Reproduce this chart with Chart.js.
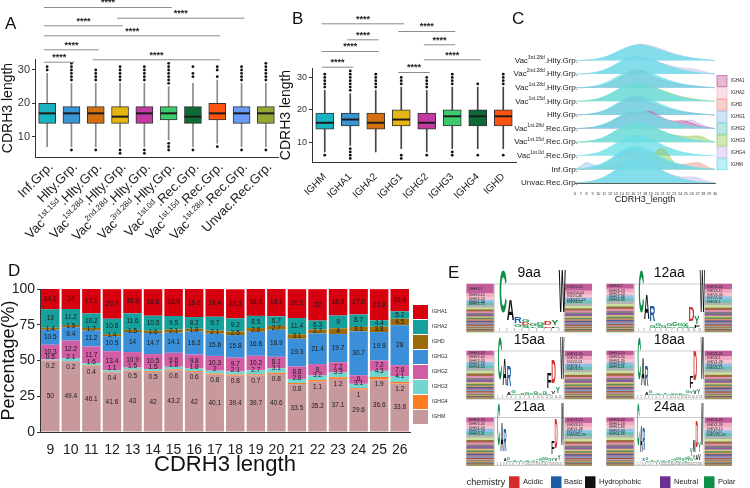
<!DOCTYPE html>
<html>
<head>
<meta charset="utf-8">
<script src="https://cdn.jsdelivr.net/npm/chart.js@4.4.1/dist/chart.umd.min.js"></script>
<style>
  body { margin: 0; background: #fff; }
  #fig { position: relative; width: 750px; height: 488px; overflow: hidden; background: #fff; }
  #fig canvas { position: absolute; }
  .tag { position: absolute; font: 17px "Liberation Sans", Arial, sans-serif; color: #111; line-height: 1; }
</style>
</head>
<body>
<div id="fig">
  <canvas id="chartA" width="285" height="250" style="left:0px;top:0px"></canvas>
  <canvas id="chartB" width="242" height="250" style="left:278px;top:0px"></canvas>
  <canvas id="chartC" width="245" height="240" style="left:505px;top:0px"></canvas>
  <canvas id="chartD" width="460" height="238" style="left:0px;top:250px"></canvas>
  <canvas id="chartE" width="290" height="248" style="left:460px;top:240px"></canvas>
  <div class="tag" style="left:5px;top:15px">A</div>
  <div class="tag" style="left:292px;top:10px">B</div>
  <div class="tag" style="left:512px;top:10px">C</div>
  <div class="tag" style="left:8px;top:262px">D</div>
  <div class="tag" style="left:448px;top:264px">E</div>
</div>
<script>
const FONT = '"Liberation Sans", Arial, Helvetica, sans-serif';

// ---- A: CDRH3 length per cohort (whisker low, Q1, median, Q3, whisker high)
const groupsA = ['Inf.Grp.', 'Hlty.Grp.', 'Vac1st.15d.Hlty.Grp.', 'Vac1st.28d.Hlty.Grp.', 'Vac2nd.28d.Hlty.Grp.',
  'Vac3rd.28d.Hlty.Grp.', 'Vac1st.0d.Rec.Grp.', 'Vac1st.15d.Rec.Grp.', 'Vac1st.28d.Rec.Grp.', 'Unvac.Rec.Grp.'];
const statsA = [[7,14,17,20,29], [7,14,17,19,26], [7,14,17,19,26], [7,14,16,19,26], [7,14,17,19,26],
  [9,15,17,19,25], [7,14,16,19,26], [8,15,17,20,27], [7,14,17,19,26], [7,14,17,19,26]];
const outliersA = [[30,31], [6,27,28,29,30,31,32], [6,27,28,29,30], [5,6,27,28,29,30,31], [5,6,27,28,29,30,31],
  [6,7,8,26,27,28,29,30,31,32], [6,28,29,31], [7,28,30,31], [6,27,28,29,30,31], [6,27,28,29,30,31,32]];
const colorsA = ['#19b2c0', '#3a95d3', '#d36f0f', '#e7b512', '#c13aa0', '#3ecb6f', '#0c6a36', '#ff5310', '#6a9cf5', '#93a832'];
const sigPairsA = [[0,5], [3,8], [0,3], [0,7], [0,2], [2,7], [0,1]];

// ---- B: CDRH3 length per isotype
const isotypesB = ['IGHM', 'IGHA1', 'IGHA2', 'IGHG1', 'IGHG2', 'IGHG3', 'IGHG4', 'IGHD'];
const statsB = [[7,14,16,19,26], [9,15,17,19,25], [7,14,16,19,26], [8,15,17,20,27],
  [7,14,16,19,26], [8,15,18,20,27], [8,15,18,20,27], [8,15,18,20,27]];
const outliersB = [[6,27,28,29,30,31], [5,6,7,8,26,27,28,29,30,31,32], [27,28,29,30,31], [5,6,28,29,30],
  [6,27,28,29,30], [6,7,28,29,30,31], [6,28], [6,28,29,30,31]];
const colorsB = ['#19b2c0', '#3a95d3', '#d36f0f', '#e7b512', '#c13aa0', '#3ecb6f', '#0c6a36', '#ff5310'];
const sigPairsB = [[0,3], [3,5], [1,2], [4,5], [0,2], [4,6], [0,1], [3,4]];

// ---- C: ridgeline densities (rows of height 1), x = CDRH3 length 6..30
const ridgeX = [6,7,8,9,10,11,12,13,14,15,16,17,18,19,20,21,22,23,24,25,26,27,28,29,30];
const ridgeGroups = ['Unvac.Rec.Grp.', 'Inf.Grp.', 'Vac1st.0d.Rec.Grp.', 'Vac1st.15d.Rec.Grp.', 'Vac1st.28d.Rec.Grp.',
  'Hlty.Grp.', 'Vac1st.15d.Hlty.Grp.', 'Vac1st.28d.Hlty.Grp.', 'Vac2nd.28d.Hlty.Grp.', 'Vac3rd.28d.Hlty.Grp.'];
const ridgeIGHM = [
  [0,0.03,0.08,0.15,0.28,0.45,0.7,1.0,1.3,1.55,1.75,1.8,1.65,1.4,1.15,0.9,0.68,0.5,0.36,0.25,0.16,0.1,0.06,0.03,0],
  [0,0.05,0.12,0.2,0.32,0.5,0.75,1.05,1.35,1.6,1.7,1.65,1.5,1.3,1.05,0.85,0.65,0.5,0.38,0.28,0.2,0.14,0.08,0.04,0],
  [0,0.02,0.07,0.14,0.25,0.42,0.65,0.9,1.15,1.35,1.48,1.5,1.38,1.2,1.0,0.8,0.6,0.45,0.32,0.22,0.14,0.09,0.05,0.02,0],
  [0,0.02,0.06,0.12,0.22,0.38,0.6,0.85,1.1,1.3,1.42,1.45,1.35,1.18,1.0,0.82,0.64,0.5,0.38,0.28,0.2,0.13,0.08,0.04,0],
  [0,0.02,0.05,0.1,0.2,0.34,0.52,0.75,0.98,1.15,1.27,1.3,1.22,1.08,0.92,0.75,0.6,0.46,0.35,0.26,0.18,0.12,0.07,0.03,0],
  [0,0.02,0.05,0.1,0.2,0.35,0.55,0.8,1.02,1.2,1.32,1.35,1.25,1.1,0.92,0.74,0.57,0.43,0.31,0.22,0.15,0.1,0.06,0.03,0],
  [0,0.02,0.05,0.11,0.21,0.36,0.56,0.8,1.03,1.22,1.33,1.35,1.26,1.1,0.92,0.74,0.58,0.44,0.32,0.23,0.16,0.1,0.06,0.03,0],
  [0,0.02,0.05,0.1,0.19,0.33,0.52,0.76,0.98,1.16,1.27,1.3,1.22,1.07,0.9,0.73,0.57,0.43,0.32,0.23,0.16,0.11,0.07,0.03,0],
  [0,0.01,0.04,0.09,0.18,0.31,0.5,0.73,0.96,1.15,1.27,1.3,1.23,1.09,0.93,0.76,0.6,0.46,0.35,0.26,0.18,0.12,0.07,0.03,0],
  [0,0.01,0.03,0.07,0.14,0.25,0.4,0.6,0.8,0.98,1.1,1.15,1.1,1.0,0.87,0.72,0.58,0.45,0.35,0.26,0.18,0.12,0.07,0.03,0]
];
const ridgeOthers = [
  { group: 0, iso: 'IGHG4', d: [0,0.02,0.06,0.12,0.24,0.4,0.62,0.9,1.18,1.42,1.6,1.66,1.55,1.35,1.12,0.9,0.7,0.55,0.45,0.42,0.45,0.38,0.22,0.08,0] },
  { group: 1, iso: 'IGHG1', d: [0,0.25,0.5,0.35,0.3,0.45,0.7,0.95,1.2,1.4,1.5,1.45,1.3,1.1,0.9,0.7,0.52,0.38,0.27,0.18,0.12,0.08,0.05,0.02,0] },
  { group: 1, iso: 'IGHD', d: [0,0.02,0.06,0.12,0.22,0.38,0.6,0.85,1.1,1.3,1.4,1.38,1.25,1.05,0.85,0.65,0.5,0.4,0.35,0.38,0.45,0.5,0.35,0.12,0] },
  { group: 1, iso: 'IGHG3', d: [0,0,0.01,0.03,0.06,0.12,0.22,0.35,0.5,0.62,0.7,0.75,0.78,0.85,1.35,1.55,1.1,0.5,0.25,0.12,0.06,0.03,0.01,0,0] },
  { group: 3, iso: 'IGHG3', d: [0,0.01,0.04,0.1,0.2,0.34,0.55,0.78,1.0,1.2,1.32,1.35,1.25,1.1,0.92,0.76,0.62,0.52,0.46,0.42,0.44,0.46,0.36,0.15,0] },
  { group: 4, iso: 'IGHA1', d: [0,0,0.03,0.08,0.15,0.28,0.46,0.7,0.92,1.1,1.2,1.22,1.2,1.25,1.05,0.8,0.62,0.55,0.58,0.55,0.4,0.25,0.14,0.06,0] },
  { group: 4, iso: 'IGHG4', d: [0,0.01,0.03,0.07,0.14,0.26,0.42,0.64,0.86,1.04,1.16,1.2,1.14,1.0,0.86,0.7,0.56,0.46,0.44,0.56,0.62,0.45,0.25,0.08,0] },
  { group: 5, iso: 'IGHA1', d: [0,0.01,0.03,0.08,0.16,0.28,0.46,0.7,0.95,1.18,1.3,1.28,1.12,0.92,0.74,0.58,0.45,0.35,0.27,0.2,0.14,0.09,0.05,0.02,0] },
  { group: 6, iso: 'IGHG3', d: [0,0.01,0.04,0.09,0.18,0.32,0.5,0.74,0.96,1.14,1.26,1.3,1.24,1.12,0.96,0.8,0.64,0.5,0.38,0.28,0.2,0.13,0.08,0.03,0] },
  { group: 7, iso: 'IGHA1', d: [0,0,0.02,0.05,0.1,0.2,0.35,0.55,0.8,1.05,1.25,1.28,1.1,0.9,0.7,0.55,0.42,0.32,0.24,0.18,0.12,0.08,0.05,0.02,0] },
  { group: 8, iso: 'IGHG4', d: [0,0.01,0.04,0.08,0.16,0.28,0.46,0.68,0.9,1.08,1.2,1.25,1.2,1.08,0.94,0.8,0.66,0.55,0.47,0.42,0.4,0.32,0.2,0.08,0] },
  { group: 9, iso: 'IGHG4', d: [0,0,0.02,0.05,0.1,0.2,0.35,0.55,0.75,0.95,1.1,1.2,1.18,1.08,0.95,0.8,0.65,0.5,0.38,0.28,0.2,0.13,0.08,0.04,0] }
];
const isotypesC = ['IGHA1', 'IGHA2', 'IGHD', 'IGHG1', 'IGHG2', 'IGHG3', 'IGHG4', 'IGHM'];

// ---- D: isotype share (%) per CDRH3 length
const lengthsD = ['9','10','11','12','13','14','15','16','17','18','19','20','21','22','23','24','25','26'];
const pctIGHM  = [50,49.4,46.1,41.6,43,42,43.2,42,40.1,39.4,39.7,40.6,33.5,35.2,37.1,29.6,36.6,33.8];
const pctIGHG4 = [0.2,0.2,0.4,0.4,0.5,0.5,0.6,0.6,0.8,0.8,0.7,0.8,0.8,1.1,1.2,1,1.9,1.2];
const pctIGHG3 = [0.5,2.1,1.6,1.1,1.5,1.5,1.8,1.8,2,2.1,2.7,3.1,2.8,3.2,3.3,3.1,4.3,4.1];
const pctIGHG2 = [10.3,12.2,11.7,13.4,10.9,10.5,9.8,9.8,10.3,9.7,10.2,8.1,8.8,8,7.2,6,7.2,7.6];
const pctIGHG1 = [10.5,9.4,11.2,10.5,14,14.7,14.1,16.2,15.6,15.8,16.8,18.9,19.3,21.4,19.7,30.7,19.9,28];
const pctIGHD  = [1.4,1.5,1.7,1.4,1.5,1.6,2.1,1.8,2.1,2.5,2.6,2.7,3.1,2.7,4,3.1,3.8,4.5];
const pctIGHA2 = [13,11.2,10.2,10.8,11.6,10.5,9.5,8.2,9.7,9.2,8.5,6.7,11.4,6.3,9,8.7,4.4,5.2];
const pctIGHA1 = [14.1,14,17.1,20.7,16.9,18.6,18.9,19.6,19.4,20.3,18.8,19.1,20.2,22,18.5,17.8,21.8,15.8];

// ---- E: logos (letter+bits per position, bottom to top) and V-gene usage
const logoTitles = ['9aa', '12aa', '15aa', '18aa', '21aa', '24aa'];
const logoCols = [
  ['C4.2','A2.1','G.3 R.6','S.2 D.3 G.25','T.15 G.3','S.2 G.25','E.15 D.4','F.15 Y.45','W4.2'],
  ['C4.2','A2.4','G.2 R1.5','S.15 G.3','G.2','S.12 G.2','Y.15 G.35','S.15 G.25','G.2 Y.2','S.15 D1.4','F.2 Y.7','W4.2'],
  ['C4.2','A2.6','A.2 R2','S.15 G.25','G.15','S.1 G.15','G.2','Y.1 G.15','S.1 G.2','G.15 Y.1','S.1 G.2','G.15 F1.5','V.3 D2.3','Y.6','W4.2'],
  ['C4.2','A2.7','A.2 R2','S.15 G.2','G.12','S.1 G.15','G.15','Y.1 G.12','G.18','S.1 G.15','G.12 Y.1','S.1 G.18','G.15','Y.12 G.2','Y.3 F1.2','V.4 D2.9','Y.5','W4.2'],
  ['C4.2','A2.8','A.2 R2.2','S.15 G.2','G.12','S.1 G.12','G.15','Y.1 G.12','G.15','S.1 G.12','G.15','Y.1 G.15','S.1 G.18','G.2','S.12 G.22','Y.15 G.2','G.25','Y.3 F1.3','V.3 D2.9','Y.5','W4.2'],
  ['C4.2','A2.6','K.3 R2.2','S.15 G.2','G.12','S.1 G.12','G.15','Y.1 G.12','G.15','S.1 G.12','G.15','Y.1 G.15','S.1 G.18','G.2','S.12 G.22','Y.15 G.2','G.25','S.15 G.25','Y.2 G.3','G.3 Y.7','Y.5 M1.2','A.5 D2.6','V.6 Y1','W4.2']
];
const heavyUsage = [
  [0.19,0.07,0.07,0.05,0.05,0.05,0.04,0.04,0.035,0.035,0.03,0.03,0.03,0.03,0.025,0.025,0.025,0.025,0.02,0.02,0.02,0.02,0.02,0.02],
  [0.1,0.07,0.07,0.06,0.06,0.06,0.05,0.05,0.045,0.04,0.04,0.035,0.035,0.03,0.03,0.03,0.03,0.025,0.025,0.025,0.02,0.02,0.02,0.02],
  [0.09,0.07,0.07,0.065,0.06,0.055,0.05,0.05,0.045,0.04,0.04,0.035,0.035,0.03,0.03,0.03,0.025,0.025,0.025,0.02,0.02,0.02,0.02,0.02],
  [0.09,0.075,0.07,0.06,0.06,0.05,0.05,0.05,0.045,0.04,0.04,0.035,0.035,0.03,0.03,0.03,0.025,0.025,0.025,0.02,0.02,0.02,0.02,0.02],
  [0.09,0.075,0.065,0.065,0.06,0.05,0.05,0.05,0.045,0.04,0.04,0.035,0.035,0.03,0.03,0.03,0.025,0.025,0.025,0.02,0.02,0.02,0.02,0.02],
  [0.085,0.075,0.07,0.065,0.06,0.05,0.05,0.05,0.045,0.04,0.04,0.035,0.035,0.03,0.03,0.03,0.025,0.025,0.025,0.02,0.02,0.02,0.02,0.02]
];
const lightUsage = [
  [0.14,0.08,0.07,0.06,0.06,0.05,0.05,0.045,0.04,0.04,0.035,0.035,0.03,0.03,0.03,0.025,0.025,0.025,0.02,0.02,0.02,0.02,0.02,0.02],
  [0.11,0.075,0.07,0.065,0.06,0.05,0.05,0.045,0.04,0.04,0.035,0.035,0.03,0.03,0.03,0.025,0.025,0.025,0.02,0.02,0.02,0.02,0.02,0.02],
  [0.11,0.08,0.07,0.065,0.06,0.05,0.05,0.045,0.04,0.04,0.035,0.035,0.03,0.03,0.03,0.025,0.025,0.025,0.02,0.02,0.02,0.02,0.02,0.02],
  [0.11,0.08,0.07,0.06,0.06,0.055,0.05,0.045,0.04,0.04,0.035,0.035,0.03,0.03,0.03,0.025,0.025,0.025,0.02,0.02,0.02,0.02,0.02,0.02],
  [0.11,0.075,0.07,0.065,0.06,0.055,0.05,0.045,0.04,0.04,0.035,0.035,0.03,0.03,0.03,0.025,0.025,0.025,0.02,0.02,0.02,0.02,0.02,0.02],
  [0.11,0.08,0.07,0.065,0.06,0.05,0.05,0.045,0.04,0.04,0.035,0.035,0.03,0.03,0.03,0.025,0.025,0.025,0.02,0.02,0.02,0.02,0.02,0.02]
];
const heavyGenes = [
  ['IGHV3-7','IGHV3-15','IGHV3-23','IGHV1-46','IGHV3-73'],
  ['IGHV3-7','IGHV3-74','IGHV3-23','IGHV1-46','IGHV4-39'],
  ['IGHV3-23','IGHV3-30','IGHV3-33','IGHV1-18','IGHV4-34'],
  ['IGHV3-23','IGHV3-30','IGHV4-39','IGHV3-33','IGHV3-21'],
  ['IGHV3-23','IGHV3-30','IGHV4-59','IGHV3-33','IGHV3-21'],
  ['IGHV3-30','IGHV1-18','IGHV1-69','IGHV3-33','IGHV4-39']
];
const lightGenes = [
  ['IGKV3-20','IGLV10-54','IGLV1-46','IGKV1D-33','IGLV3-14'],
  ['IGKV3-20','IGKV3-11','IGKV3-30','IGLV2-14','IGKV4-1'],
  ['IGKV3-20','IGKV1-39','IGLV2-14','IGKV4-1','IGKV3-15'],
  ['IGKV3-20','IGKV4-1','IGKV1-39','IGLV2-14','IGKV3-15'],
  ['IGKV3-20','IGKV3-15','IGKV1-39','IGLV1-47','IGKV2D-29'],
  ['IGKV3-20','IGKV1-39','IGKV3-15','IGLV1-51','IGKV2D-29']
];
const chemistry = ['Acidic', 'Basic', 'Hydrophobic', 'Neutral', 'Polar'];

Chart.defaults.font.family = FONT;
Chart.defaults.color = '#222';
Chart.defaults.animation = false;
Chart.defaults.plugins.legend.display = false;
Chart.defaults.plugins.tooltip.enabled = false;

function supParts(s) {
  const m = s.match(/^Vac(\d\w+\.\d+d)(\..*)$/);
  return m ? ['Vac', m[1], m[2]] : [s, '', ''];
}
function drawSupText(ctx, parts, x, y, size, supSize, angle) {
  const [a, b, c] = parts;
  ctx.save();
  ctx.translate(x, y);
  ctx.rotate(angle);
  ctx.textAlign = 'right';
  ctx.textBaseline = 'middle';
  ctx.font = size + 'px ' + FONT;
  let off = 0;
  if (c) { ctx.fillText(c, 0, 0); off = ctx.measureText(c).width; }
  if (b) {
    ctx.font = supSize + 'px ' + FONT;
    ctx.fillText(b, -off, -size * 0.38);
    off += ctx.measureText(b).width;
    ctx.font = size + 'px ' + FONT;
  }
  ctx.fillText(a, -off, 0);
  ctx.restore();
}

function boxDatasets(labels, stats, outs, colors, bw, whiskerColor) {
  const pts = [];
  outs.forEach((arr, i) => arr.forEach(v => pts.push({ x: labels[i], y: v })));
  return [
    { type: 'bar', data: stats.map(s => [s[2] - 0.2, s[2] + 0.2]), backgroundColor: '#1b1b1b', grouped: false, barThickness: bw - 1 },
    { type: 'bar', data: stats.map(s => [s[1], s[3]]), backgroundColor: colors, borderColor: '#333', borderWidth: 1, borderSkipped: false, grouped: false, barThickness: bw },
    { type: 'bar', data: stats.map(s => [s[0], s[4]]), backgroundColor: whiskerColor, grouped: false, barThickness: 1 },
    { type: 'line', data: pts, showLine: false, pointRadius: 1.4, pointBackgroundColor: '#111', pointBorderWidth: 0 }
  ];
}

function bracketPlugin(pairs, rows) {
  return {
    id: 'brackets',
    afterDraw(chart) {
      const ctx = chart.ctx, sx = chart.scales.x;
      ctx.save();
      ctx.strokeStyle = '#8c8c8c';
      ctx.lineWidth = 1;
      ctx.fillStyle = '#222';
      ctx.font = 'bold 9px ' + FONT;
      ctx.textAlign = 'center';
      ctx.textBaseline = 'middle';
      pairs.forEach((p, k) => {
        const x1 = sx.getPixelForValue(p[0]) - 3, x2 = sx.getPixelForValue(p[1]) + 3, y = rows[k];
        ctx.beginPath();
        ctx.moveTo(x1, y + 0.5);
        ctx.lineTo(x2, y + 0.5);
        ctx.stroke();
        ctx.fillText('****', (x1 + x2) / 2, y - 4);
      });
      ctx.restore();
    }
  };
}

const yAxisBox = (min, max, w, tickSize) => ({
  min: min, max: max,
  ticks: { stepSize: 10, includeBounds: false, font: { size: tickSize }, color: '#333', padding: 2 },
  grid: { display: true, drawOnChartArea: false, tickLength: 3, color: '#333' },
  border: { color: '#333' },
  title: { display: true, text: 'CDRH3 length', font: { size: 14 }, color: '#111', padding: { top: 0, bottom: 0 } },
  afterFit: s => { s.width = w; }
});

// ---- A
new Chart(document.getElementById('chartA'), {
  type: 'bar',
  data: { labels: groupsA, datasets: boxDatasets(groupsA, statsA, outliersA, colorsA, 17, '#8a8a8a') },
  options: {
    responsive: false,
    layout: { padding: { top: 59, right: 7, left: 0, bottom: 0 } },
    scales: {
      x: { ticks: { display: false }, grid: { display: false }, border: { color: '#333' }, afterFit: s => { s.height = 93; } },
      y: yAxisBox(3.9, 33.3, 35, 11)
    }
  },
  plugins: [bracketPlugin(sigPairsA, [7, 17.7, 25.3, 35.3, 49.3, 59.3, 61.7]), {
    id: 'tiltA',
    afterDraw(chart) {
      const ctx = chart.ctx, sx = chart.scales.x, bottom = chart.chartArea.bottom;
      ctx.save();
      ctx.fillStyle = '#222';
      groupsA.forEach((g, i) => drawSupText(ctx, supParts(g), sx.getPixelForValue(i) + 4, bottom + 8, 13, 8, -Math.PI / 4));
      ctx.restore();
    }
  }]
});

// ---- B
new Chart(document.getElementById('chartB'), {
  type: 'bar',
  data: { labels: isotypesB, datasets: boxDatasets(isotypesB, statsB, outliersB, colorsB, 18, '#444') },
  options: {
    responsive: false,
    layout: { padding: { top: 68, right: 3, left: 0, bottom: 0 } },
    scales: {
      x: {
        ticks: { font: { size: 10 }, color: '#222', minRotation: 45, maxRotation: 45, padding: 1 },
        grid: { display: false }, border: { color: '#333' },
        afterFit: s => { s.height = 88; }
      },
      y: yAxisBox(3.9, 32.9, 34, 9)
    }
  },
  plugins: [bracketPlugin(sigPairsB, [23.3, 31, 39.3, 44.3, 51, 59.3, 66.7, 72])]
});

// ---- C
const ridgeColors = {
  IGHA1: [200, 95, 160], IGHA2: [245, 185, 200], IGHD: [240, 150, 140], IGHG1: [150, 195, 240],
  IGHG2: [100, 200, 190], IGHG3: [150, 200, 90], IGHG4: [200, 185, 235], IGHM: [105, 222, 232]
};
const rgba = (c, a) => 'rgba(' + c[0] + ',' + c[1] + ',' + c[2] + ',' + a + ')';
const ridgeDatasets = [];
ridgeGroups.forEach((g, gi) => {
  const layers = [{ iso: 'IGHM', d: ridgeIGHM[gi] }].concat(ridgeOthers.filter(o => o.group === gi));
  layers.forEach(l => {
    const c = ridgeColors[l.iso];
    ridgeDatasets.push({
      type: 'line',
      data: l.d.map((v, k) => ({ x: ridgeX[k], y: gi + v })),
      fill: { value: gi },
      backgroundColor: rgba(c, l.iso === 'IGHM' ? 0.78 : 0.5),
      borderColor: rgba(c, 0.9),
      borderWidth: 0.6,
      pointRadius: 0,
      tension: 0.35
    });
  });
});
new Chart(document.getElementById('chartC'), {
  type: 'line',
  data: { datasets: ridgeDatasets },
  options: {
    responsive: false,
    layout: { padding: { top: 36, right: 35, left: 70, bottom: 35 } },
    scales: {
      x: {
        type: 'linear', min: 6, max: 30,
        ticks: { stepSize: 1, autoSkip: false, maxRotation: 0, font: { size: 3.8 }, color: '#333', padding: 1 },
        grid: { display: false }, border: { color: '#333', width: 0.8 },
        title: { display: true, text: 'CDRH3_length', font: { size: 9 }, color: '#222', padding: { top: 3, bottom: 0 } },
        afterFit: s => { s.height = 22; }
      },
      y: { display: false, min: 0, max: 10.8 }
    }
  },
  plugins: [{
    id: 'ridgeLabels',
    afterDraw(chart) {
      const ctx = chart.ctx, sy = chart.scales.y, left = chart.chartArea.left;
      ctx.save();
      ctx.fillStyle = '#222';
      ridgeGroups.forEach((g, gi) => drawSupText(ctx, supParts(g), left + 3, sy.getPixelForValue(gi), 8, 5, 0));
      ctx.font = '4.5px ' + FONT;
      ctx.textBaseline = 'middle';
      isotypesC.forEach((iso, k) => {
        const c = ridgeColors[iso], y = 81 + k * 11.9;
        ctx.fillStyle = rgba(c, 0.45);
        ctx.fillRect(212, y - 5.5, 10, 11);
        ctx.strokeStyle = rgba(c, 0.9);
        ctx.lineWidth = 0.8;
        ctx.strokeRect(212, y - 5.5, 10, 11);
        ctx.fillStyle = '#222';
        ctx.fillText(iso, 226, y);
      });
      ctx.restore();
    }
  }]
});

// ---- D
const stackD = [
  ['IGHM', pctIGHM, '#c8999c'], ['IGHG4', pctIGHG4, '#ff7b22'], ['IGHG3', pctIGHG3, '#72d5cf'],
  ['IGHG2', pctIGHG2, '#d15ea4'], ['IGHG1', pctIGHG1, '#3b8fd8'], ['IGHD', pctIGHD, '#9c6b08'],
  ['IGHA2', pctIGHA2, '#17a09b'], ['IGHA1', pctIGHA1, '#d6000f']
];
new Chart(document.getElementById('chartD'), {
  type: 'bar',
  data: {
    labels: lengthsD,
    datasets: stackD.map(s => ({ label: s[0], data: s[1], backgroundColor: s[2], barPercentage: 0.9, categoryPercentage: 1 }))
  },
  options: {
    responsive: false,
    layout: { padding: { top: 39, right: 50, left: 0, bottom: 10 } },
    scales: {
      x: {
        stacked: true,
        ticks: { font: { size: 14 }, color: '#222', padding: 2, autoSkip: false, maxRotation: 0, minRotation: 0 },
        grid: { display: false }, border: { color: '#333' },
        title: { display: true, text: 'CDRH3 length', font: { size: 22 }, color: '#111', padding: { top: 0, bottom: 0 } },
        afterFit: s => { s.height = 46; }
      },
      y: {
        stacked: true, min: 0, max: 100,
        ticks: { stepSize: 25, font: { size: 14 }, color: '#222', padding: 2 },
        grid: { display: true, drawOnChartArea: false, tickLength: 3, color: '#333' },
        border: { color: '#333' },
        title: { display: true, text: 'Percentage(%)', font: { size: 18, lineHeight: 1 }, color: '#111', padding: { top: 0, bottom: 0 } },
        afterFit: s => { s.width = 40; }
      }
    }
  },
  plugins: [{
    id: 'segLabels',
    afterDatasetsDraw(chart) {
      const ctx = chart.ctx;
      ctx.save();
      ctx.font = '6.5px ' + FONT;
      ctx.fillStyle = '#1a1a1a';
      ctx.textAlign = 'center';
      ctx.textBaseline = 'middle';
      chart.data.datasets.forEach((ds, di) => {
        const nudge = { IGHG3: -2.5, IGHG4: 6 }[ds.label] || 0;
        chart.getDatasetMeta(di).data.forEach((bar, i) => {
          ctx.fillText(String(ds.data[i]), bar.x, (bar.y + bar.base) / 2 + nudge);
        });
      });
      ctx.restore();
    },
    afterDraw(chart) {
      const ctx = chart.ctx;
      ctx.save();
      ctx.font = '5px ' + FONT;
      ctx.textBaseline = 'middle';
      chart.data.datasets.slice().reverse().forEach((ds, k) => {
        const y = 62 + k * 15;
        ctx.fillStyle = ds.backgroundColor;
        ctx.fillRect(413, y - 7, 15, 14);
        ctx.fillStyle = '#222';
        ctx.fillText(ds.label, 432, y);
      });
      ctx.restore();
    }
  }]
});

// ---- E
const stripePalette = ['#c25f9b', '#f3a9c2', '#f6c4d2', '#8fc3e6', '#6cc2b8', '#b3b3b3', '#c9e29d', '#9c6b3f',
  '#e58fb0', '#7d7d7d', '#8a5aa6', '#d7c27a', '#5a8f5a', '#e0936a', '#4d5f8c', '#b07aa1', '#7aa0c4', '#a0522d',
  '#d9a5c9', '#6f6f3a', '#e8c07a', '#3f6f6f', '#c46a6a', '#999966'];
const chemColor = { D: '#d42a2a', E: '#d42a2a', K: '#1f5aa6', R: '#1f5aa6', H: '#1f5aa6',
  A: '#111', V: '#111', L: '#111', I: '#111', P: '#111', W: '#111', F: '#111', M: '#111',
  Q: '#6b2f8f', N: '#6b2f8f', G: '#0f8f46', S: '#0f8f46', T: '#0f8f46', Y: '#0f8f46', C: '#0f8f46' };
const chemSwatch = ['#d42a2a', '#1f5aa6', '#111', '#6b2f8f', '#0f8f46'];
const E_LEFT = [6.7, 146.7], E_TOP = [44, 111, 177.7], E_H = 48, BLOCK_W = 26.7;
const stripePts = [], stripeCols = [], stripeTags = [];
logoTitles.forEach((t, li) => {
  const L = E_LEFT[li % 2], top = E_TOP[Math.floor(li / 2)];
  [[heavyUsage[li], heavyGenes[li], L + BLOCK_W / 2], [lightUsage[li], lightGenes[li], L + 98.3 + BLOCK_W / 2]].forEach(([fr, genes, cx]) => {
    const tot = fr.reduce((a, b) => a + b, 0);
    let acc = 0;
    fr.forEach((f, k) => {
      if (k < genes.length) stripeTags.push({ idx: stripePts.length, text: genes[k] });
      stripePts.push({ x: cx, y: [top + acc / tot * E_H, top + (acc + f) / tot * E_H] });
      stripeCols.push(stripePalette[k % stripePalette.length]);
      acc += f;
    });
  });
});

function drawLetter(ctx, ch, x, yBottom, w, h, color) {
  ctx.save();
  ctx.font = 'bold 100px ' + FONT;
  ctx.fillStyle = color;
  const m = ctx.measureText(ch);
  const asc = m.actualBoundingBoxAscent, desc = m.actualBoundingBoxDescent;
  const lw = m.actualBoundingBoxRight + m.actualBoundingBoxLeft;
  ctx.translate(x, yBottom);
  ctx.scale(w / lw, h / (asc + desc));
  ctx.textAlign = 'left';
  ctx.textBaseline = 'alphabetic';
  ctx.fillText(ch, m.actualBoundingBoxLeft, -desc);
  ctx.restore();
}

new Chart(document.getElementById('chartE'), {
  type: 'bar',
  data: { datasets: [{ data: stripePts, backgroundColor: stripeCols, barThickness: BLOCK_W, grouped: false }] },
  options: {
    responsive: false,
    layout: { padding: 0 },
    scales: {
      x: { type: 'linear', min: 0, max: 290, offset: false, display: false },
      y: { type: 'linear', min: 0, max: 248, reverse: true, display: false }
    }
  },
  plugins: [{
    id: 'logos',
    afterDatasetsDraw(chart) {
      const ctx = chart.ctx, sx = chart.scales.x, sy = chart.scales.y;
      const bars = chart.getDatasetMeta(0).data;
      ctx.save();
      ctx.fillStyle = '#222';
      ctx.font = '3.6px ' + FONT;
      ctx.textBaseline = 'middle';
      ctx.textAlign = 'left';
      stripeTags.forEach(s => {
        const b = bars[s.idx];
        ctx.fillText(s.text, b.x - b.width / 2 + 2, (b.y + b.base) / 2);
      });
      logoTitles.forEach((t, li) => {
        const L = E_LEFT[li % 2], top = E_TOP[Math.floor(li / 2)];
        const bx0 = sx.getPixelForValue(L + 27.5), bx1 = sx.getPixelForValue(L + 97.3);
        const by0 = sy.getPixelForValue(top), by1 = sy.getPixelForValue(top + E_H);
        ctx.fillStyle = '#fff';
        ctx.fillRect(bx0, by0, bx1 - bx0, by1 - by0);
        ctx.strokeStyle = '#aaa';
        ctx.lineWidth = 0.6;
        ctx.strokeRect(bx0, by0, bx1 - bx0, by1 - by0);
        ctx.fillStyle = '#111';
        ctx.font = '14px ' + FONT;
        ctx.textAlign = 'center';
        ctx.textBaseline = 'middle';
        ctx.fillText(t, (sx.getPixelForValue(L) + sx.getPixelForValue(L + 125)) / 2, by0 - 11);
        const cols = logoCols[li], n = cols.length;
        const colW = (bx1 - bx0 - 3) / n, base = by1 - 3.5, fullH = by1 - by0 - 5;
        ctx.font = '2.6px ' + FONT;
        ctx.fillStyle = '#555';
        cols.forEach((col, ci) => {
          const x = bx0 + 1.5 + ci * colW;
          ctx.fillText(String(ci + 1), x + colW / 2, by1 - 1.6);
          let yb = base;
          col.split(' ').forEach(tok => {
            const ch = tok[0], bits = parseFloat(tok.slice(1));
            const h = bits / 4.3 * fullH;
            if (h > 0.4) drawLetter(ctx, ch, x + 0.2, yb, colW - 0.4, h, chemColor[ch]);
            yb -= h;
          });
        });
      });
      // chemistry legend
      const ly = 242.3;
      ctx.fillStyle = '#222';
      ctx.textAlign = 'left';
      ctx.textBaseline = 'middle';
      ctx.font = '9px ' + FONT;
      ctx.fillText('chemistry', 6.7, ly);
      const sw = [49, 91, 125, 200, 244], lx = [63, 104, 139, 214, 258];
      ctx.font = '7.5px ' + FONT;
      chemistry.forEach((c, k) => {
        ctx.fillStyle = chemSwatch[k];
        ctx.fillRect(sw[k], ly - 6, 10.5, 12);
        ctx.fillStyle = '#222';
        ctx.fillText(c, lx[k], ly);
      });
      ctx.restore();
    }
  }]
});
</script>
</body>
</html>
